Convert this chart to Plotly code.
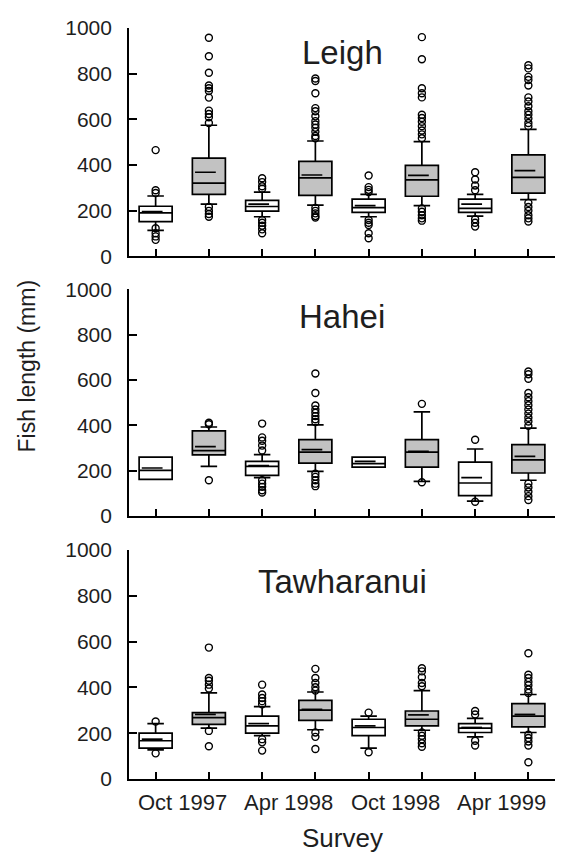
import plotly.graph_objects as go

SITES = ["Leigh", "Hahei", "Tawharanui"]
SURVEYS = ["Oct 1997", "Apr 1998", "Oct 1998", "Apr 1999"]
POSITIONS = [1, 2, 3, 4, 5, 6, 7, 8]   # pairs: outside (white), reserve (grey)

# ---- Leigh ----
LEIGH_Q1 = [152, 271, 198, 267, 192, 263, 192, 277]
LEIGH_MED = [190, 320, 218, 343, 213, 335, 210, 346]
LEIGH_MEAN = [196, 368, 228, 356, 222, 354, 228, 375]
LEIGH_Q3 = [219, 430, 245, 416, 250, 398, 250, 444]
LEIGH_LO = [113, 228, 173, 224, 173, 222, 176, 248]
LEIGH_HI = [264, 574, 281, 505, 271, 502, 271, 556]
LEIGH_OUT = [
    [465, 289, 277, 123, 101, 87, 72],
    [957, 876, 804, 748, 736, 724, 695, 638, 623, 609, 584, 216, 199, 185, 173],
    [342, 325, 307, 296, 159, 147, 134, 118, 101],
    [779, 768, 714, 649, 635, 613, 592, 577, 563, 545, 527, 517, 212, 199, 188, 176, 170],
    [354, 303, 291, 281, 159, 147, 137, 101, 79],
    [960, 863, 736, 714, 696, 620, 606, 589, 570, 551, 534, 517, 209, 195, 180, 166, 156],
    [368, 336, 310, 289, 162, 147, 130],
    [837, 823, 786, 772, 748, 696, 678, 657, 635, 620, 603, 584, 570, 234, 216, 199, 180, 166, 152],
]

# ---- Hahei ----
HAHEI_Q1 = [161, 269, 179, 233, 215, 215, 89, 189]
HAHEI_MED = [201, 288, 218, 281, 230, 281, 145, 247]
HAHEI_MEAN = [211, 305, 222, 292, 240, 285, 169, 262]
HAHEI_Q3 = [259, 375, 240, 336, 259, 336, 237, 314]
HAHEI_LO = [161, 218, 169, 196, 215, 152, 65, 157]
HAHEI_HI = [259, 392, 270, 401, 259, 459, 295, 387]
HAHEI_OUT = [
    [],
    [411, 404, 157],
    [407, 346, 331, 310, 288, 157, 142, 128, 113, 103],
    [628, 542, 487, 469, 455, 440, 426, 414, 186, 172, 157, 142, 131],
    [],
    [494, 148],
    [336, 62],
    [637, 625, 605, 542, 523, 506, 488, 469, 451, 433, 416, 397, 142, 125, 106, 87, 70],
]

# ---- Tawharanui ----
TAWH_Q1 = [135, 239, 200, 256, 189, 232, 203, 228]
TAWH_MED = [167, 268, 232, 301, 225, 261, 222, 275]
TAWH_MEAN = [174, 282, 242, 304, 232, 280, 225, 282]
TAWH_Q3 = [200, 290, 275, 343, 261, 297, 242, 329]
TAWH_LO = [127, 222, 189, 215, 135, 213, 184, 203]
TAWH_HI = [242, 376, 316, 380, 275, 386, 265, 369]
TAWH_OUT = [
    [251, 112],
    [574, 441, 429, 412, 395, 210, 143],
    [412, 369, 354, 340, 326, 174, 160, 124],
    [481, 441, 419, 401, 386, 203, 184, 131],
    [290, 117],
    [484, 470, 444, 419, 405, 203, 189, 174, 156, 141],
    [297, 282, 167, 146],
    [549, 455, 441, 424, 409, 391, 376, 193, 179, 164, 146, 73],
]

PANELS = [
    (LEIGH_Q1, LEIGH_MED, LEIGH_MEAN, LEIGH_Q3, LEIGH_LO, LEIGH_HI, LEIGH_OUT),
    (HAHEI_Q1, HAHEI_MED, HAHEI_MEAN, HAHEI_Q3, HAHEI_LO, HAHEI_HI, HAHEI_OUT),
    (TAWH_Q1, TAWH_MED, TAWH_MEAN, TAWH_Q3, TAWH_LO, TAWH_HI, TAWH_OUT),
]

FONT = "Liberation Sans, Arial, sans-serif"
TXT = "#1e1e1e"
GREY = "#c2c2c2"
LW = 1.7
BOXW = 0.62

# The page body has an 8px default margin: figure is sized to fit the window.
OFF = 8
W, H = 563 - OFF, 852 - OFF
# plot area edges in screen pixels
SX0, SX1, SY0, SY1 = 129, 555, 19, 779
L, R, T, B = SX0 - OFF, W - (SX1 - OFF), SY0 - OFF, H - (SY1 - OFF)
PH = H - T - B
PW = W - L - R

def py(pix):  # screen pixel y -> paper y
    return (SY1 - pix) / PH

def px(pix):  # screen pixel x -> paper x
    return (pix - SX0) / PW

DOMAINS = [[py(250), 1.0], [py(512.7), py(283.3)], [0.0, py(547.3)]]
TITLE_Y = [44, 310.5, 579.5]

fig = go.Figure()

for k, (q1, med, mean, q3, lo, hi, outs) in enumerate(PANELS):
    xa = "x" if k == 0 else f"x{k+1}"
    ya = "y" if k == 0 else f"y{k+1}"
    for parity, fill in [(0, "white"), (1, GREY)]:
        idx = [i for i in range(8) if i % 2 == parity]
        fig.add_trace(go.Box(
            x=[POSITIONS[i] for i in idx],
            q1=[q1[i] for i in idx], median=[med[i] for i in idx],
            q3=[q3[i] for i in idx], lowerfence=[lo[i] for i in idx],
            upperfence=[hi[i] for i in idx],
            width=BOXW, whiskerwidth=0.5, fillcolor=fill,
            line=dict(color="black", width=LW), boxpoints=False,
            hoverinfo="skip", showlegend=False, xaxis=xa, yaxis=ya))
    # mean lines
    mx, my = [], []
    for i in range(8):
        mx += [POSITIONS[i] - 0.26, POSITIONS[i] + 0.13, None]
        my += [mean[i], mean[i], None]
    fig.add_trace(go.Scatter(x=mx, y=my, mode="lines",
                             line=dict(color="black", width=LW),
                             showlegend=False, hoverinfo="skip",
                             xaxis=xa, yaxis=ya))
    # outliers
    ox, oy = [], []
    for i in range(8):
        ox += [POSITIONS[i]] * len(outs[i])
        oy += outs[i]
    fig.add_trace(go.Scatter(x=ox, y=oy, mode="markers",
                             marker=dict(symbol="circle-open", size=7,
                                         color="black", line=dict(width=1.4)),
                             showlegend=False, hoverinfo="skip",
                             xaxis=xa, yaxis=ya))

axis_common = dict(showline=True, linecolor="black", linewidth=LW,
                   showgrid=False, zeroline=False, ticks="inside",
                   tickcolor="black", tickwidth=LW)

layout = dict(
    width=W, height=H, margin=dict(l=L, r=R, t=T, b=B),
    paper_bgcolor="white", plot_bgcolor="white", boxmode="overlay",
    font=dict(family=FONT, color=TXT),
)
for k in range(3):
    xk = "xaxis" if k == 0 else f"xaxis{k+1}"
    yk = "yaxis" if k == 0 else f"yaxis{k+1}"
    xa = "x" if k == 0 else f"x{k+1}"
    ya = "y" if k == 0 else f"y{k+1}"
    layout[xk] = dict(axis_common, range=[0.5, 8.5], domain=[0, 1], anchor=ya,
                      tickvals=POSITIONS, ticktext=[""] * 8, ticklen=7)
    layout[yk] = dict(axis_common, range=[0, 1000], domain=DOMAINS[k], anchor=xa,
                      tickvals=[0, 200, 400, 600, 800, 1000], ticklen=8,
                      ticklabelstandoff=11,
                      tickfont=dict(family=FONT, size=21, color=TXT))
fig.update_layout(**layout)

ann = []
for k, name in enumerate(SITES):
    ann.append(dict(text=name, xref="paper", yref="paper", x=0.5, y=py(TITLE_Y[k]),
                    xanchor="center", yanchor="middle", showarrow=False,
                    font=dict(family=FONT, size=33, color=TXT)))
for j, s in enumerate(SURVEYS):
    ann.append(dict(text=s, xref="x3", yref="paper",
                    x=(POSITIONS[2 * j] + POSITIONS[2 * j + 1]) / 2, y=py(803),
                    xanchor="center", yanchor="middle", showarrow=False,
                    font=dict(family=FONT, size=22, color=TXT)))
ann.append(dict(text="Survey", xref="paper", yref="paper", x=0.5, y=py(839),
                xanchor="center", yanchor="middle", showarrow=False,
                font=dict(family=FONT, size=26, color=TXT)))
ann.append(dict(text="Fish length (mm)", xref="paper", yref="paper",
                x=px(27), y=py(361.5), textangle=-90,
                xanchor="center", yanchor="middle", showarrow=False,
                font=dict(family=FONT, size=23, color=TXT)))
fig.update_layout(annotations=ann)

fig.write_html("out.html")
